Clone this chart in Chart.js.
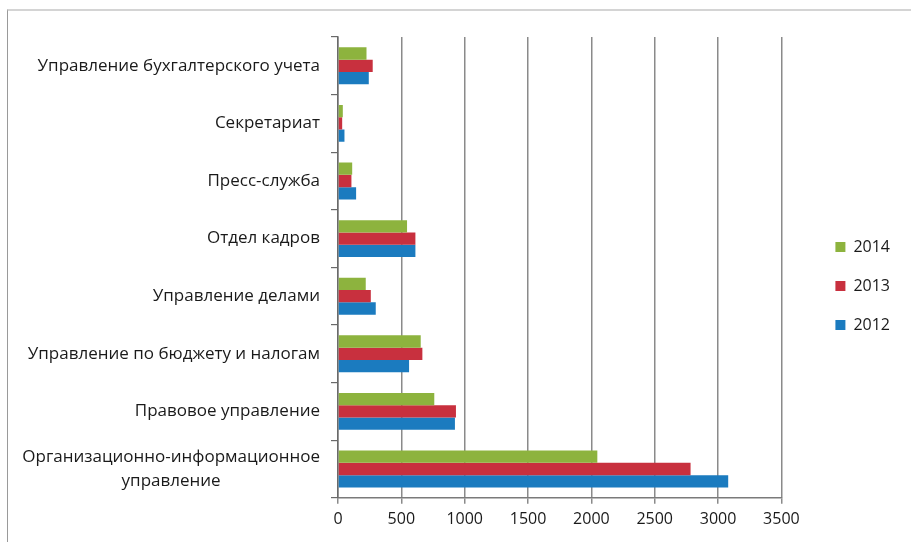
<!DOCTYPE html>
<html>
<head>
<meta charset="utf-8">
<script src="https://cdn.jsdelivr.net/npm/chart.js@4"></script>
<style>
  body { margin: 0; background: #fff; }
  #wrap { position: relative; width: 911px; height: 542px; }
  #frame { position: absolute; left: 7px; top: 9px; width: 920px; height: 560px;
           border-top: 2px solid #d4d4d4; border-left: 1px solid #9a9a9a; }
  canvas { position: absolute; left: 0; top: 0; }
</style>
</head>
<body>
<div id="wrap">
  <div id="frame"></div>
  <canvas id="grafico" width="911" height="542"></canvas>
</div>
<script>
// categorie dall'alto verso il basso
var reparti = [
  ['Управление бухгалтерского учета'],
  ['Секретариат'],
  ['Пресс-служба'],
  ['Отдел кадров'],
  ['Управление делами'],
  ['Управление по бюджету и налогам'],
  ['Правовое управление'],
  ['Организационно-информационное', 'управление']
];

var anni = ['2014', '2013', '2012'];

// valori
var valori_2014 = [225, 38, 112, 545, 219, 653, 760, 2047];
var valori_2013 = [274, 33, 106, 611, 259, 666, 931, 2783];
var valori_2012 = [243, 51, 143, 611, 298, 561, 923, 3080];

var colori = ['#8db33e', '#c8303e', '#1b7bbf'];

var FONT = '"Open Sans", "Noto Sans", sans-serif';

// etichette dell'asse y disegnate a mano (righe centrate, blocco allineato a destra)
var etichette_y = {
  id: 'etichette_y',
  afterDraw: function(chart) {
    var ctx = chart.ctx;
    var y = chart.scales.y;
    var destra = y.right - 18;
    ctx.save();
    ctx.font = '17px ' + FONT;
    ctx.fillStyle = '#1a1a1a';
    ctx.textAlign = 'center';
    ctx.textBaseline = 'middle';
    for (var i = 0; i < reparti.length; i++) {
      var righe = reparti[i];
      var larg = 0;
      for (var k = 0; k < righe.length; k++) {
        larg = Math.max(larg, ctx.measureText(righe[k]).width);
      }
      var cx = destra - larg / 2;
      var cy = y.getPixelForValue(i);
      var h = 24;
      var inizio = cy - (righe.length - 1) * h / 2;
      for (var k = 0; k < righe.length; k++) {
        ctx.fillText(righe[k], cx, inizio + k * h);
      }
    }
    ctx.restore();
  }
};

var datasets = [];
var serie = [valori_2014, valori_2013, valori_2012];
for (var i = 0; i < anni.length; i++) {
  datasets.push({
    label: anni[i],
    data: serie[i],
    backgroundColor: colori[i],
    borderWidth: 0,
    categoryPercentage: 0.64,
    barPercentage: 1.0
  });
}

var chart = new Chart(document.getElementById('grafico'), {
  type: 'bar',
  data: {
    labels: reparti,
    datasets: datasets
  },
  options: {
    indexAxis: 'y',
    responsive: false,
    animation: false,
    layout: { padding: { top: 37, right: 11, bottom: 7, left: 0 } },
    plugins: {
      tooltip: { enabled: false },
      legend: {
        position: 'right',
        labels: {
          boxWidth: 10,
          boxHeight: 10,
          padding: 23,
          color: '#1a1a1a',
          font: { family: FONT, size: 16 }
        }
      }
    },
    scales: {
      x: {
        min: 0,
        max: 3500,
        ticks: {
          stepSize: 500,
          color: '#1a1a1a',
          padding: 6,
          font: { family: FONT, size: 16 },
          callback: function(v) { return String(v); }
        },
        grid: {
          color: '#8a8a8a',
          lineWidth: 1.5,
          drawTicks: true,
          tickLength: 6
        },
        border: { color: '#7a7a7a', width: 1.5 }
      },
      y: {
        ticks: { display: false },
        grid: {
          drawOnChartArea: false,
          drawTicks: true,
          tickLength: 7,
          color: '#6a6a6a',
          lineWidth: 1.2
        },
        border: { color: '#6a6a6a', width: 1.5 },
        afterFit: function(s) { s.width = 338; }
      },
      spazio: {
        type: 'linear',
        position: 'right',
        display: true,
        ticks: { display: false },
        grid: { display: false },
        border: { display: false },
        afterFit: function(s) { s.width = 31; }
      }
    }
  },
  plugins: [etichette_y]
});
</script>
</body>
</html>
